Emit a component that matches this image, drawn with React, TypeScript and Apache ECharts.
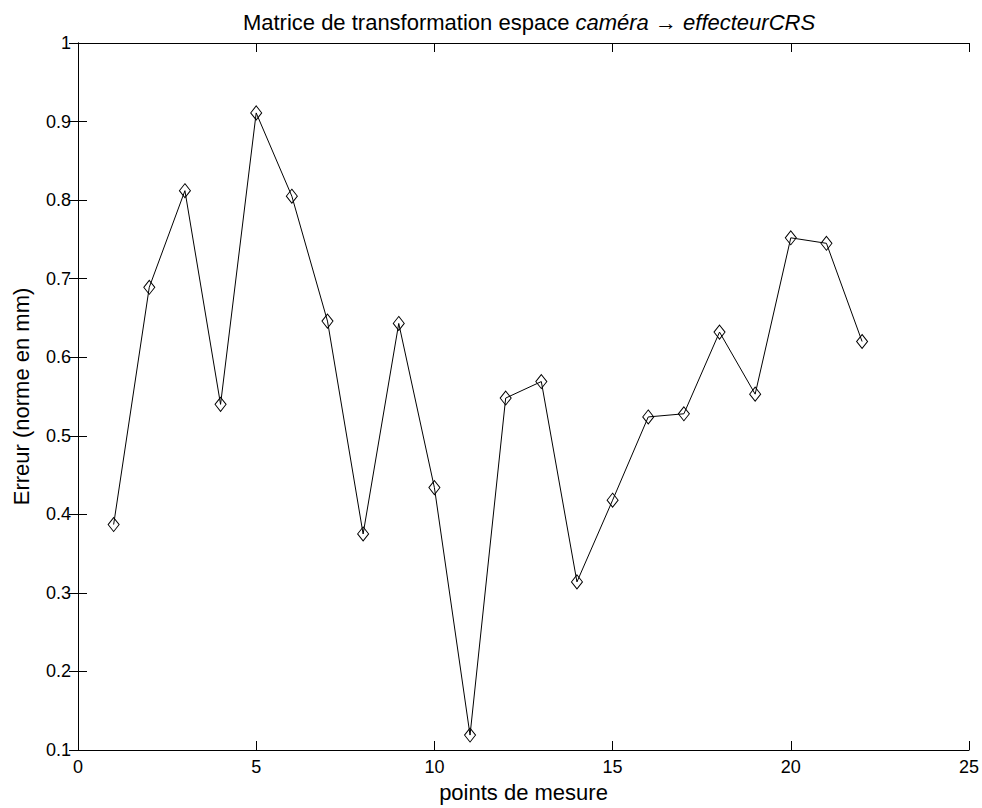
import React, { useEffect, useRef } from "react";
import * as echarts from "echarts";

const points = [1, 2, 3, 4, 5, 6, 7, 8, 9, 10, 11, 12, 13, 14, 15, 16, 17, 18, 19, 20, 21, 22];
const errors = [0.387, 0.689, 0.812, 0.54, 0.911, 0.805, 0.646, 0.375, 0.643, 0.434, 0.119, 0.548, 0.569, 0.314, 0.418, 0.524, 0.528, 0.632, 0.553, 0.752, 0.745, 0.62];
const xTicks = [0, 5, 10, 15, 20, 25];
const yTicks = [0.1, 0.2, 0.3, 0.4, 0.5, 0.6, 0.7, 0.8, 0.9, 1];

const FONT = "'Liberation Sans', Arial, Helvetica, sans-serif";

export default function App() {
  const ref = useRef<HTMLDivElement>(null);
  useEffect(() => {
    if (!ref.current) return;
    const chart = echarts.init(ref.current, null, { renderer: "svg" });
    const axisLine = { show: true, lineStyle: { color: "#000", width: 1 } };
    const tick = { show: true, inside: true, length: 9, lineStyle: { color: "#000", width: 1 } };
    chart.setOption({
      animation: false,
      backgroundColor: "#fff",
      title: {
        text: "Matrice de transformation espace {i|caméra → effecteurCRS}",
        left: 524,
        textAlign: "center",
        top: 6,
        textStyle: {
          fontFamily: FONT,
          fontSize: 22,
          fontWeight: "normal",
          color: "#000",
          rich: {
            i: { fontFamily: FONT, fontSize: 22, fontStyle: "italic", color: "#000" },
          },
        },
      },
      grid: { left: 78, right: 13, top: 43, bottom: 58, containLabel: false, outerBoundsMode: "none" },
      xAxis: [
        {
          type: "value",
          min: 0,
          max: 25,
          interval: 5,
          name: "points de mesure",
          nameLocation: "middle",
          nameGap: 31,
          nameTextStyle: { fontFamily: FONT, fontSize: 22, color: "#000" },
          axisLine,
          axisTick: tick,
          splitLine: { show: false },
          axisLabel: {
            fontFamily: FONT,
            fontSize: 18,
            color: "#000",
            margin: 8,
            formatter: (v: number) => (xTicks.includes(v) ? String(v) : ""),
          },
        },
        {
          type: "value",
          position: "top",
          min: 0,
          max: 25,
          interval: 5,
          axisLine,
          axisTick: tick,
          axisLabel: { show: false },
          splitLine: { show: false },
        },
      ],
      yAxis: [
        {
          type: "value",
          min: 0.1,
          max: 1,
          interval: 0.1,
          name: "Erreur (norme en mm)",
          nameLocation: "middle",
          nameGap: 46,
          nameTextStyle: { fontFamily: FONT, fontSize: 22, color: "#000" },
          axisLine,
          axisTick: tick,
          splitLine: { show: false },
          axisLabel: {
            fontFamily: FONT,
            fontSize: 18,
            color: "#000",
            margin: 7,
            formatter: (v: number) => {
              const r = Math.round(v * 10) / 10;
              const found = yTicks.find((t) => Math.abs(t - r) < 1e-9);
              return found === undefined ? "" : String(found);
            },
          },
        },
        {
          type: "value",
          position: "right",
          min: 0.1,
          max: 1,
          interval: 0.1,
          axisLine,
          axisTick: tick,
          axisLabel: { show: false },
          splitLine: { show: false },
        },
      ],
      series: [
        {
          type: "line",
          data: points.map((p, i) => [p, errors[i]]),
          symbol: "diamond",
          symbolSize: [11, 14],
          showAllSymbol: true,
          lineStyle: { color: "#000", width: 1 },
          itemStyle: { color: "rgba(255,255,255,0)", borderColor: "#000", borderWidth: 1 },
          emphasis: { disabled: true },
        },
      ],
    });
    return () => chart.dispose();
  }, []);
  return (
    <div
      ref={ref}
      style={{ position: "absolute", left: 0, top: 0, width: 982, height: 808 }}
    />
  );
}
